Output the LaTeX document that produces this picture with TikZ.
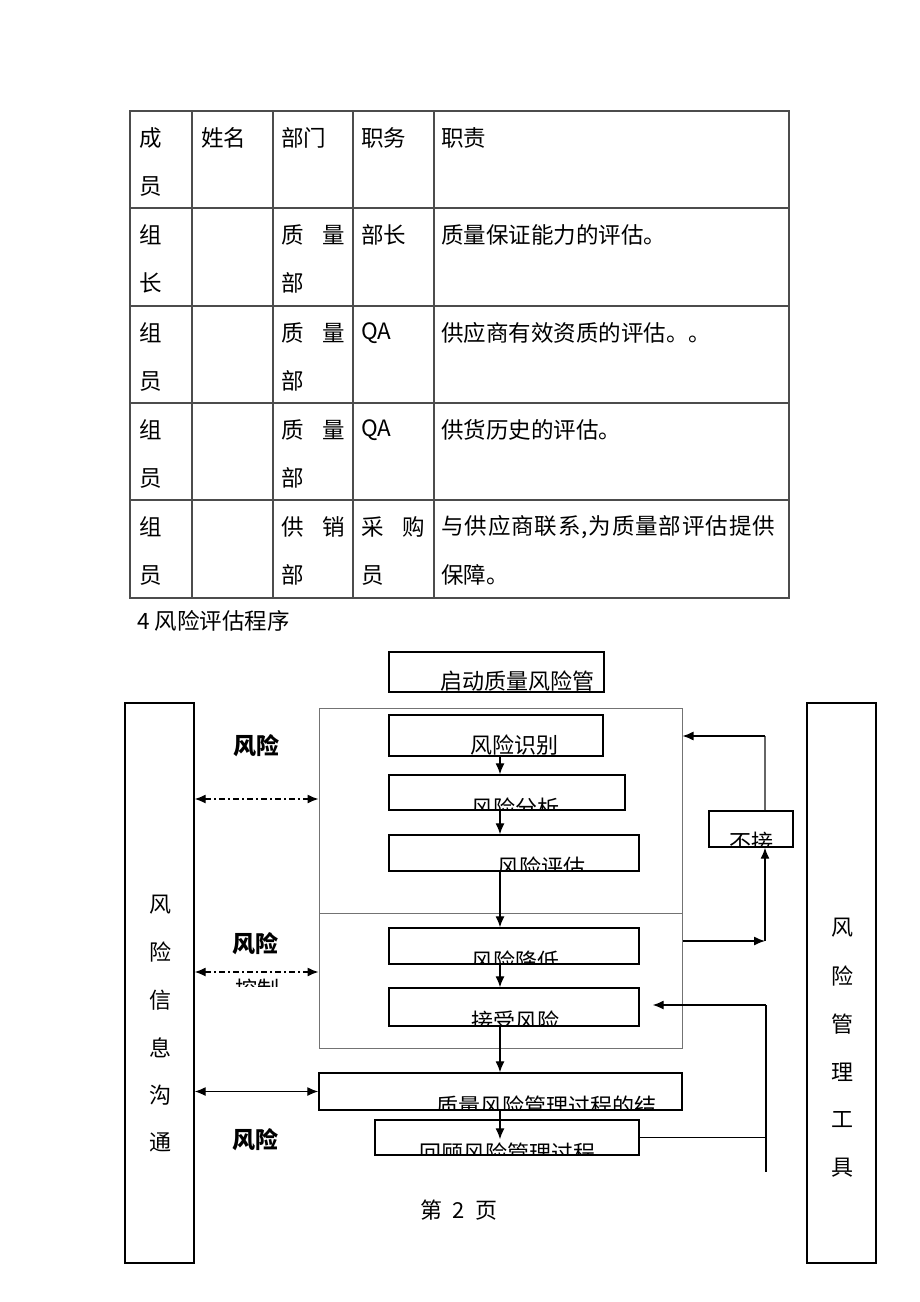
\documentclass[tikz,border=0pt]{standalone}
\usepackage{fontspec}
\setmainfont{Noto Sans CJK SC}
\usetikzlibrary{arrows.meta}

\tikzset{
  cell/.style={anchor=west, inner sep=0pt, font=\fontsize{22.5}{22.5}\selectfont},
  word/.style={inner sep=0pt, font=\fontsize{22}{22}\selectfont},
  tag/.style={inner sep=0pt, font=\fontsize{23}{23}\selectfont\bfseries},
  box/.style={draw=black, line width=1.4pt, inner sep=0pt},
  panel/.style={draw=black!55, line width=1pt, inner sep=0pt},
  grid line/.style={draw=black!70, line width=1.2pt},
  flow/.style={line width=1.3pt, -{Latex[length=11pt,width=9pt]}},
  twoway/.style={line width=1.3pt, {Latex[length=11pt,width=9pt]}-{Latex[length=11pt,width=9pt]}},
  dashdot/.style={dash pattern=on 6pt off 3pt on 2pt off 3pt},
}

\begin{document}
\begin{tikzpicture}[x=1pt, y=-1pt]
  \fill[white] (0,0) rectangle (920,1302);
  \useasboundingbox (0,0) rectangle (920,1302);

%% table of the team
  \draw[grid line] (130,111) rectangle (789,598);
  \foreach \y in {208,306,403,500}
    \draw[grid line] (130,\y) -- (789,\y);
  \foreach \x in {192,273,353,434}
    \draw[grid line] (\x,111) -- (\x,598);

  \node[cell] (hMemberA) at (139,138) {成};
  \node[cell] (hMemberB) at (139,186) {员};
  \node[cell] (hName) at (201,138) {姓名};
  \node[cell] (hDept) at (281,138) {部门};
  \node[cell] (hPost) at (361,138) {职务};
  \node[cell] (hDuty) at (441,138) {职责};

  \node[cell] (leadA) at (139,235) {组};
  \node[cell] (leadB) at (139,283) {长};
  \node[cell] (leadDeptA) at (281,235) {质\hspace{19pt}量};
  \node[cell] (leadDeptB) at (281,283) {部};
  \node[cell] (leadPost) at (361,235) {部长};
  \node[cell] (leadDuty) at (441,235) {质量保证能力的评估。};

  \node[cell] (qaOneA) at (139,333) {组};
  \node[cell] (qaOneB) at (139,381) {员};
  \node[cell] (qaOneDeptA) at (281,333) {质\hspace{19pt}量};
  \node[cell] (qaOneDeptB) at (281,381) {部};
  \node[cell] (qaOnePost) at (361,333) {QA};
  \node[cell] (qaOneDuty) at (441,333) {供应商有效资质的评估。。};

  \node[cell] (qaTwoA) at (139,430) {组};
  \node[cell] (qaTwoB) at (139,478) {员};
  \node[cell] (qaTwoDeptA) at (281,430) {质\hspace{19pt}量};
  \node[cell] (qaTwoDeptB) at (281,478) {部};
  \node[cell] (qaTwoPost) at (361,430) {QA};
  \node[cell] (qaTwoDuty) at (441,430) {供货历史的评估。};

  \node[cell] (buyA) at (139,527) {组};
  \node[cell] (buyB) at (139,575) {员};
  \node[cell] (buyDeptA) at (281,527) {供\hspace{19pt}销};
  \node[cell] (buyDeptB) at (281,575) {部};
  \node[cell] (buyPostA) at (361,527) {采\hspace{19pt}购};
  \node[cell] (buyPostB) at (361,575) {员};
  \node[cell] (buyDutyA) at (441,527) {\addfontfeature{LetterSpace=4}与供应商联系,为质量部评估提供};
  \node[cell] (buyDutyB) at (441,575) {保障。};

  \node[cell] (heading) at (137,621) {4 风险评估程序};

%% flow chart boxes
  \node[panel, minimum width=363pt, minimum height=205pt] (upper) at (500.5,810.5) {};
  \node[panel, minimum width=363pt, minimum height=135pt] (lower) at (500.5,980.5) {};
  \node[box, minimum width=215pt, minimum height=40pt] (start) at (496.5,672) {};
  \node[box, minimum width=214pt, minimum height=41pt] (ident) at (496,735.5) {};
  \node[box, minimum width=236pt, minimum height=35pt] (analyse) at (507,792.5) {};
  \node[box, minimum width=250pt, minimum height=36pt] (evaluate) at (514,853) {};
  \node[box, minimum width=250pt, minimum height=36pt] (reduce) at (514,946) {};
  \node[box, minimum width=250pt, minimum height=38pt] (accept) at (514,1007) {};
  \node[box, minimum width=363pt, minimum height=37pt] (result) at (500.5,1091.5) {};
  \node[box, minimum width=264pt, minimum height=35pt] (review) at (507,1137.5) {};
  \node[box, minimum width=84pt, minimum height=36pt] (notacc) at (751,829) {};
  \node[box, minimum width=69pt, minimum height=560pt] (comm) at (159.5,983) {};
  \node[box, minimum width=69pt, minimum height=560pt] (tool) at (841.5,983) {};

%% box texts, cut off at the box edge as printed
  \begin{scope}
    \clip (start.north west) rectangle (start.south east);
    \node[word] (startText) at (517.5,681) {启动质量风险管};
  \end{scope}
  \begin{scope}
    \clip (ident.north west) rectangle (ident.south east);
    \node[word] (identText) at (514,745) {风险识别};
  \end{scope}
  \begin{scope}
    \clip (analyse.north west) rectangle (analyse.south east);
    \node[word] (analyseText) at (515,808) {风险分析};
  \end{scope}
  \begin{scope}
    \clip (evaluate.north west) rectangle (evaluate.south east);
    \node[word] (evaluateText) at (541,867) {风险评估};
  \end{scope}
  \begin{scope}
    \clip (reduce.north west) rectangle (reduce.south east);
    \node[word] (reduceText) at (515,961) {风险降低};
  \end{scope}
  \begin{scope}
    \clip (accept.north west) rectangle (accept.south east);
    \node[word] (acceptText) at (515,1021) {接受风险};
  \end{scope}
  \begin{scope}
    \clip (result.north west) rectangle (result.south east);
    \node[word] (resultText) at (546.5,1106) {质量风险管理过程的结};
  \end{scope}
  \begin{scope}
    \clip (review.north west) rectangle (review.south east);
    \node[word] (reviewText) at (507.5,1153) {回顾风险管理过程};
  \end{scope}
  \begin{scope}
    \clip (notacc.north west) rectangle (notacc.south east);
    \node[word] (notaccText) at (751.5,842) {不接};
  \end{scope}

  \foreach \c [count=\i] in {风,险,信,息,沟,通}
    \node[word] (commChar\i) at (160,857.5+47.5*\i) {\c};
  \foreach \c [count=\i] in {风,险,管,理,工,具}
    \node[word] (toolChar\i) at (842,880+48*\i) {\c};

  \node[tag] (riskA) at (256.5,746) {风险};
  \node[tag] (riskB) at (255.5,944) {风险};
  \node[tag] (riskC) at (255,1140) {风险};
  \begin{scope}
    \clip (225,977) rectangle (290,986);
    \node[word] (riskBnote) at (257,989) {控制};
  \end{scope}

%% main line
  \coordinate (spine) at (500,0);
  \draw[flow] (ident.south -| spine) -- (analyse.north -| spine);
  \draw[flow] (analyse.south -| spine) -- (evaluate.north -| spine);
  \draw[flow] (evaluate.south -| spine) -- (reduce.north -| spine);
  \draw[flow] (reduce.south -| spine) -- (accept.north -| spine);
  \draw[flow] (accept.south -| spine) -- (result.north -| spine);
  \draw[flow] (result.south -| spine) -- ([yshift=-20pt]review.north -| spine);

%% communication side
  \draw[twoway, dashdot] (comm.east |- 0,799) -- (upper.west |- 0,799);
  \draw[twoway, dashdot] (comm.east |- 0,972) -- (lower.west |- 0,972);
  \draw[twoway] (comm.east |- result.west) -- (result.west);

%% not accepted loop and tool side
  \coordinate (loopT) at (765,736);
  \coordinate (loopB) at (765,941);
  \draw[draw=black!60, line width=1.2pt] (notacc.north -| loopT) -- (loopT);
  \draw[flow] (loopT) -- (upper.east |- loopT);
  \draw[flow] (lower.east |- loopB) -- (loopB);
  \draw[flow] (loopB) -- (notacc.south -| loopB);

  \coordinate (railT) at (766,1005);
  \coordinate (railB) at (766,1172);
  \draw[line width=1.3pt] (railT) -- (railB);
  \draw[flow] (railT) -- ([xshift=13pt]accept.east |- railT);
  \draw[line width=1.3pt] (review.east) -- (review.east -| railT);

  \node[word] (pageNo) at (459,1210) {第\hspace{10pt}2\hspace{10pt}页};
\end{tikzpicture}
\end{document}
